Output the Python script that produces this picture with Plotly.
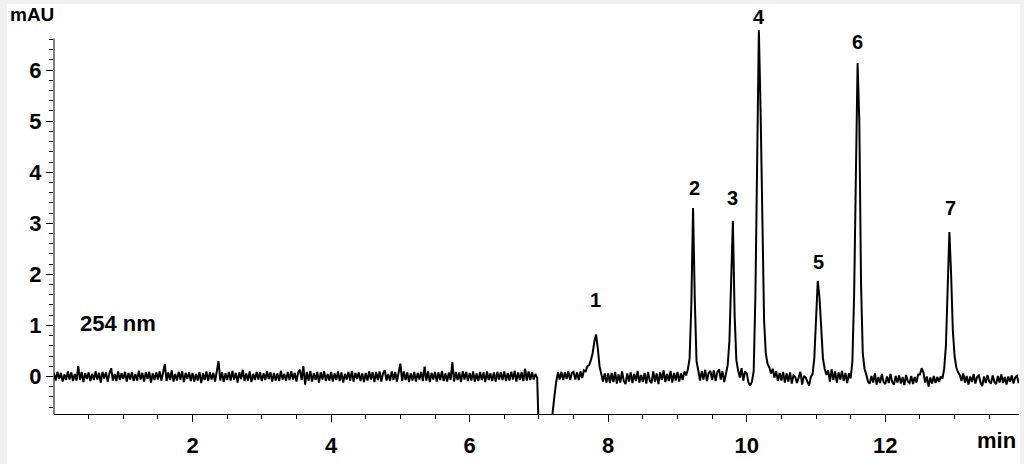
import numpy as np
import plotly.graph_objects as go

# detector trace, sampled every 0.025 min from 0 to 13.95 min (mAU); one row = 0.5 min
t_step = 0.025
signal_rows = [
    [0.06, -0.08, 0.09, -0.05, 0.07, -0.10, 0.04, -0.07, 0.10, -0.06, 0.08, -0.09, 0.05, -0.08, 0.20, -0.07, 0.09, -0.11, 0.06, -0.05],
    [0.08, -0.09, 0.05, -0.07, 0.10, -0.06, 0.07, -0.12, 0.09, -0.04, 0.08, -0.10, 0.06, 0.16, -0.08, 0.05, -0.09, 0.10, -0.07, 0.06],
    [-0.05, 0.09, -0.10, 0.07, -0.06, 0.08, -0.09, 0.05, -0.08, 0.11, -0.06, 0.07, -0.10, 0.08, -0.05, 0.09, -0.12, 0.06, -0.07, 0.08],
    [-0.06, 0.10, -0.08, 0.06, 0.24, -0.09, 0.08, -0.07, 0.12, -0.10, 0.05, -0.08, 0.09, -0.06, 0.10, -0.11, 0.07, -0.05, 0.08, -0.09],
    [0.07, -0.10, 0.05, -0.08, 0.09, -0.13, 0.06, -0.07, 0.10, -0.09, 0.08, -0.06, 0.07, -0.10, 0.12, 0.30, -0.08, 0.09, -0.11, 0.06],
    [-0.07, 0.09, -0.08, 0.11, -0.06, 0.07, -0.12, 0.08, -0.05, 0.13, -0.09, 0.06, -0.08, 0.10, -0.11, 0.05, -0.07, 0.09, -0.06, 0.08],
    [-0.09, 0.06, -0.07, 0.10, -0.05, 0.08, -0.10, 0.07, -0.08, 0.06, -0.09, 0.11, -0.06, 0.05, -0.08, 0.09, -0.07, 0.10, -0.06, 0.07],
    [-0.10, 0.08, 0.13, -0.07, 0.20, -0.16, 0.09, -0.08, 0.11, -0.10, 0.06, -0.07, 0.09, -0.12, 0.08, -0.06, 0.10, -0.09, 0.05, -0.08],
    [0.09, -0.10, 0.06, -0.07, 0.10, -0.09, 0.08, -0.12, 0.05, -0.06, 0.09, -0.08, 0.11, -0.10, 0.07, -0.05, 0.08, -0.09, 0.06, -0.11],
    [0.07, -0.08, 0.10, -0.06, 0.08, -0.11, 0.09, -0.07, 0.10, -0.10, 0.06, 0.12, -0.08, 0.05, -0.09, 0.10, -0.07, 0.09, -0.10, 0.08],
    [0.25, -0.09, 0.10, -0.07, 0.08, -0.11, 0.06, -0.08, 0.09, -0.10, 0.07, -0.06, 0.09, -0.09, 0.19, -0.08, 0.10, -0.11, 0.07, -0.06],
    [0.09, -0.10, 0.08, -0.07, 0.11, -0.09, 0.06, -0.10, 0.08, -0.07, 0.28, -0.10, 0.09, -0.07, 0.08, -0.11, 0.10, -0.06, 0.09, -0.09],
    [0.07, -0.08, 0.10, -0.10, 0.06, -0.09, 0.09, -0.07, 0.08, -0.11, 0.10, -0.07, 0.06, -0.09, 0.08, -0.10, 0.09, -0.06, 0.08, -0.07],
    [0.10, -0.09, 0.07, -0.08, 0.09, -0.06, 0.11, -0.10, 0.08, -0.07, 0.09, -0.09, 0.15, -0.08, 0.10, -0.07, 0.08, -0.06, 0.05, -0.03],
    [-1.20, -1.20, -1.20, -1.20, -1.20, -1.20, -1.20, -1.00, -0.63, -0.37, -0.10, 0.08, -0.06, 0.09, -0.07, 0.08, -0.05, 0.10, -0.07, 0.06],
    [0.09, -0.06, 0.08, -0.07, 0.10, -0.03, 0.12, 0.10, 0.20, 0.22, 0.32, 0.45, 0.68, 0.82, 0.55, 0.20, 0.05, -0.10, 0.06, -0.12],
    [0.06, -0.13, 0.07, -0.11, 0.09, -0.14, 0.04, -0.12, 0.10, -0.09, -0.15, 0.06, -0.10, 0.08, -0.13, 0.05, -0.09, 0.11, -0.12, 0.03],
    [-0.11, 0.07, -0.14, 0.09, -0.08, -0.13, 0.10, -0.10, 0.06, -0.15, 0.08, -0.07, 0.12, -0.11, 0.05, -0.09, 0.11, -0.12, 0.07, -0.08],
    [0.09, -0.10, 0.06, -0.07, 0.10, 0.02, 0.14, 0.35, 1.40, 3.30, 1.50, 0.30, 0.12, -0.08, 0.10, -0.06, 0.13, -0.09, 0.07, 0.11],
    [-0.07, 0.12, -0.09, 0.08, 0.14, -0.06, 0.10, -0.11, 0.05, 0.22, 0.70, 2.20, 3.05, 1.20, 0.32, 0.12, -0.02, 0.16, -0.08, 0.10],
    [0.06, -0.12, -0.18, -0.10, 0.10, 1.60, 4.60, 6.78, 5.20, 2.80, 1.10, 0.45, 0.25, 0.18, 0.06, 0.15, -0.02, 0.10, -0.09, 0.07],
    [-0.08, 0.09, -0.12, 0.06, -0.10, 0.08, -0.14, 0.02, -0.01, -0.13, 0.00, 0.09, -0.16, 0.01, -0.02, -0.12, -0.18, -0.01, 0.05, 0.35],
    [1.05, 1.87, 1.55, 0.80, 0.35, 0.15, 0.03, 0.12, -0.10, 0.14, -0.07, 0.10, -0.12, 0.08, -0.06, 0.11, -0.09, 0.07, -0.13, 0.06],
    [-0.04, 0.30, 1.60, 3.90, 6.14, 5.00, 1.80, 0.45, 0.15, 0.04, -0.10, -0.14, 0.01, -0.12, 0.06, -0.16, -0.01, -0.13, 0.05, -0.11],
    [-0.15, 0.00, -0.13, 0.05, -0.11, -0.16, 0.01, -0.12, 0.02, -0.14, -0.01, -0.17, 0.03, -0.10, -0.13, 0.01, -0.15, -0.01, -0.12, 0.04],
    [0.04, 0.16, 0.08, -0.12, 0.00, -0.20, -0.02, -0.14, 0.01, -0.13, -0.01, -0.11, 0.00, -0.04, 0.15, 0.60, 1.60, 2.83, 2.00, 0.90],
    [0.40, 0.18, 0.08, 0.03, -0.09, 0.06, -0.12, 0.01, -0.16, 0.00, -0.11, 0.05, -0.14, -0.01, 0.02, -0.12, -0.19, 0.00, -0.13, 0.03],
    [-0.10, -0.14, 0.02, -0.11, -0.15, 0.01, -0.12, 0.04, -0.13, -0.01, -0.16, 0.00, -0.11, 0.02, -0.14, -0.02, 0.01, -0.13, -0.09],
]
signal_mau = [v for row in signal_rows for v in row]
time_min = np.round(np.arange(len(signal_mau)) * t_step, 3)

# peak numbers and where their labels sit (min, mAU)
peak_names = ["1", "2", "3", "4", "5", "6", "7"]
peak_label_t = [7.82, 9.24, 9.79, 10.17, 11.03, 11.60, 12.94]
peak_label_y = [1.50, 3.69, 3.50, 7.04, 2.24, 6.55, 3.30]

x_major = [2, 4, 6, 8, 10, 12]
x_minor = [v / 2 for v in range(1, 28)]
y_major = [0, 1, 2, 3, 4, 5, 6]
y_minor = [round(v * 0.2, 1) for v in range(-3, 34)]

x_range = [0, 13.93]
y_range = [-0.736, 7.1]
y_axis_top = 6.62

FONT = "Liberation Sans, Arial, sans-serif"


def bold(size):
    return {"family": FONT, "size": size, "color": "black", "weight": "bold"}


fig = go.Figure(
    go.Scatter(
        x=time_min,
        y=signal_mau,
        mode="lines",
        line={"color": "black", "width": 2.0},
        hoverinfo="skip",
    )
)

for name, tx, ty in zip(peak_names, peak_label_t, peak_label_y):
    fig.add_annotation(x=tx, y=ty, text=name, showarrow=False, font=bold(20))

fig.add_annotation(
    x=0.34, y=1.03, xanchor="left", text="254 nm", showarrow=False, font=bold(22)
)
fig.add_annotation(
    xref="paper", yref="paper", x=-0.048, y=0.9975, xanchor="left", yanchor="middle",
    text="mAU", showarrow=False, font=bold(19),
)
fig.add_annotation(
    xref="paper", yref="paper", x=0.977, y=-0.065, xanchor="center", yanchor="middle",
    text="min", showarrow=False, font=bold(22),
)

# white card inside a thin grey frame, and the y axis line (stops below peak 4)
fig.add_shape(
    type="rect", xref="paper", yref="paper", x0=-0.0487, x1=1.001, y0=-0.3, y1=1.025,
    fillcolor="white", line={"width": 0}, layer="below",
)
fig.add_shape(
    type="line", xref="paper", yref="y", x0=0, x1=0, y0=y_range[0], y1=y_axis_top,
    line={"color": "black", "width": 1},
)

fig.update_xaxes(
    range=x_range, showgrid=False, zeroline=False, automargin=False,
    showline=True, linecolor="black", linewidth=1,
    tickmode="array", tickvals=x_major, ticks="outside", ticklen=7, tickcolor="black",
    tickfont=bold(22), ticklabelstandoff=5,
    minor={"tickmode": "array", "tickvals": x_minor, "ticks": "outside", "ticklen": 4, "tickcolor": "black"},
)
fig.update_yaxes(
    range=y_range, showgrid=False, zeroline=False, showline=False, automargin=False,
    tickmode="array", tickvals=y_major, ticks="outside", ticklen=7, tickcolor="black",
    tickfont=bold(22),
    minor={"tickmode": "array", "tickvals": y_minor, "ticks": "outside", "ticklen": 4, "tickcolor": "black"},
)
fig.update_layout(
    width=1024, height=464,
    margin={"l": 54, "r": 5, "t": 14, "b": 50},
    paper_bgcolor="#f1f1f1", plot_bgcolor="white",
    showlegend=False,
)

# the page's default body margin would shift the figure; drop it
fig.write_html(
    "out.html",
    config={"displayModeBar": False},
    post_script="document.body.style.margin = '0px';",
)
